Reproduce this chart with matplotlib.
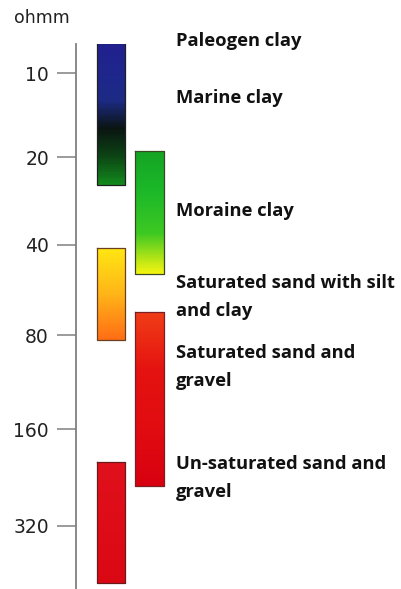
import matplotlib.pyplot as plt
import numpy as np
from matplotlib.colors import LinearSegmentedColormap

# resistivity ranges (ohmm) for each bar, left column / right column
bar_low = [7.8, 19, 41, 67, 203]
bar_high = [25, 50, 83, 241, 478]
bar_column = [0, 1, 0, 1, 0]
bar_colors = [
    ['#20208e', '#1e268c', '#1c2a84', '#0a1412', '#0c4414', '#128a1c'],
    ['#14a424', '#1cb828', '#3cc822', '#f4f410'],
    ['#ffe612', '#ffb418', '#ff6c14'],
    ['#f03c16', '#e41210', '#e00c10', '#d80010'],
    ['#e0101c', '#da0812'],
]
edge_colors = ['#202020', '#3a4a20', '#6a4020', '#7a2020', '#6a1a1a']

tick_values = [10, 20, 40, 80, 160, 320]
tick_labels = ['10', '20', '40', '80', '160', '320']

labels = ['Paleogen clay', 'Marine clay', 'Moraine clay',
          'Saturated sand with silt\nand clay', 'Saturated sand and\ngravel',
          'Un-saturated sand and\ngravel']
label_px = [41, 98, 211, 283, 353, 464]

W, H = 401, 589
fig = plt.figure(figsize=(W / 100, H / 100), dpi=100)
ax = fig.add_axes([76 / W, 0, (W - 76) / W, (H - 44) / H])

# the printed scale is roughly logarithmic, doublings widen a little downwards
B, C2 = 82.9, 1.53

def fwd(v):
    u = np.log2(np.asarray(v, dtype=float) / 10)
    return B * u + C2 * u ** 2

def inv(t):
    t = np.asarray(t, dtype=float)
    u = (-B + np.sqrt(np.maximum(B ** 2 + 4 * C2 * t, 0))) / (2 * C2)
    return 10 * 2 ** u

ax.set_yscale('function', functions=(fwd, inv))
ax.set_ylim(inv(589 - 73), inv(44 - 73))
ax.set_xlim(0, W - 76)

col_x = [(21, 49), (59, 88)]
for lo, hi, c, cols, ec in zip(bar_low, bar_high, bar_column, bar_colors, edge_colors):
    cmap = LinearSegmentedColormap.from_list('b', cols)
    x0, x1 = col_x[c]
    ys = inv(np.linspace(fwd(lo), fwd(hi), 120))
    cc = np.linspace(0, 1, 119).reshape(-1, 1)
    ax.pcolormesh([x0, x1], ys, cc, cmap=cmap, shading='flat')
    ax.plot([x0, x1, x1, x0, x0], [lo, lo, hi, hi, lo], color=ec, lw=0.9)

for s in ['top', 'right', 'bottom']:
    ax.spines[s].set_visible(False)
ax.spines['left'].set_color('#808080')
ax.spines['left'].set_linewidth(1.3)
ax.set_xticks([])
ax.set_yticks(tick_values)
ax.set_yticklabels(tick_labels)
ax.yaxis.set_minor_locator(plt.NullLocator())
ax.tick_params(axis='y', length=13.5, width=1.1, color='#808080', pad=6,
               labelsize=13.5, labelcolor='#222222')

fig.text(42 / W, 1 - 18 / H, 'ohmm', ha='center', va='center', fontsize=12.5,
         color='#222222')

for lab, p in zip(labels, label_px):
    for i, line in enumerate(lab.split('\n')):
        fig.text(176 / W, 1 - (p + 28 * i) / H, line, ha='left', va='center',
                 fontsize=13.2, fontfamily='Open Sans', fontweight='bold',
                 color='#111111')

fig.savefig('out.png', dpi=100)
